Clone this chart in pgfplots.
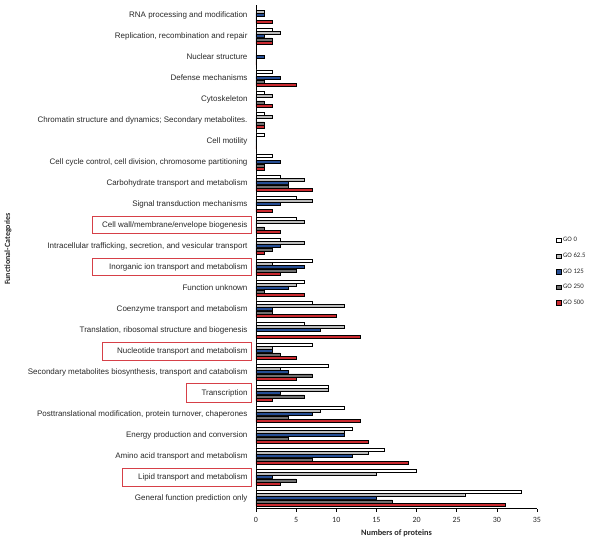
\documentclass[border=0pt]{standalone}
\usepackage{fontspec}
\setmainfont{Liberation Sans}
\newfontfamily\calfont{Carlito}
\usepackage{pgfplots}
\usepackage{pgfplotstable}
\pgfplotsset{compat=1.18}
\definecolor{goA}{RGB}{255,255,255}
\definecolor{goB}{RGB}{188,188,188}
\definecolor{goC}{RGB}{38,78,148}
\definecolor{goD}{RGB}{112,112,112}
\definecolor{goE}{RGB}{202,42,48}
\definecolor{boxred}{RGB}{214,64,72}
\definecolor{txt}{RGB}{40,40,40}
\pgfplotstableread{
cat g0 g62 g125 g250 g500
0  33 26 15 17 31
1  20 15 2  5  3
2  16 14 12 7  19
3  12 11 11 4  14
4  11 8  7  4  13
5  9  9  3  6  2
6  9  3  4  7  5
7  7  2  2  3  5
8  6  11 8  0  13
9  7  11 2  2  10
10 6  5  4  1  6
11 7  2  6  5  3
12 3  6  3  2  1
13 5  6  0  1  3
14 5  7  3  0  2
15 3  6  4  4  7
16 2  0  3  1  1
17 1  0  0  0  0
18 1  2  0  1  1
19 1  2  0  1  2
20 2  0  3  1  5
21 0  0  1  0  0
22 2  3  1  2  2
23 0  1  1  0  2
}\data
\begin{document}
\begin{tikzpicture}
\begin{axis}[
  name=ax, at={(0,0)}, anchor=south west,
  scale only axis, width=281pt, height=504pt,
  xmin=0, xmax=35, ymin=-0.5, ymax=23.5,
  xbar, bar width=3.1pt,
  axis x line*=bottom, axis y line*=left,
  axis line style={-, line width=0.8pt, black},
  xtick={0,5,...,35},
  ytick={0,...,23},
  yticklabels={
    General function prediction only,
    Lipid transport and metabolism,
    Amino acid transport and metabolism,
    Energy production and conversion,
    {Posttranslational modification, protein turnover, chaperones},
    Transcription,
    {Secondary metabolites biosynthesis, transport and catabolism},
    Nucleotide transport and metabolism,
    {Translation, ribosomal structure and biogenesis},
    Coenzyme transport and metabolism,
    Function unknown,
    Inorganic ion transport and metabolism,
    {Intracellular trafficking, secretion, and vesicular transport},
    Cell wall/membrane/envelope biogenesis,
    Signal transduction mechanisms,
    Carbohydrate transport and metabolism,
    {Cell cycle control, cell division, chromosome partitioning},
    Cell motility,
    {Chromatin structure and dynamics; Secondary metabolites.},
    Cytoskeleton,
    Defense mechanisms,
    Nuclear structure,
    {Replication, recombination and repair},
    RNA processing and modification},
  y tick style={draw=none},
  x tick style={black, line width=0.6pt},
  tick align=outside, major tick length=3pt,
  yticklabel style={font=\fontsize{8}{9}\selectfont, text=txt, xshift=-2pt},
  xticklabel style={font=\calfont\fontsize{8}{9}\selectfont, text=txt, yshift=-2pt},
  /pgf/number format/assume math mode=true,
  xlabel={Numbers of proteins},
  xlabel style={font=\calfont\bfseries\fontsize{8.3}{9}\selectfont, text=txt, at={(rel axis cs:0.5,0)}, anchor=center, yshift=-24.5pt},
  ylabel={Functional-Categories},
  ylabel style={font=\calfont\bfseries\fontsize{8}{9}\selectfont, text=txt, at={(rel axis cs:-0.883,0.515)}, anchor=center},
  clip=false,
  legend style={draw=none, fill=none, at={(rel axis cs:1.068,0.47)}, anchor=west,
    font=\calfont\fontsize{6.8}{7}\selectfont, text=txt, row sep=5.6pt, inner sep=0pt},
  legend cell align=left,
  lg/.style={legend image code/.code={\draw[##1, line width=0.5pt] (0pt,-2.2pt) rectangle (4.4pt,2.2pt);}},
]
\addplot[draw=black, line width=0.4pt, fill=goA, bar shift=6.6pt, lg] table[x=g0, y=cat]{\data};
\addplot[draw=black, line width=0.4pt, fill=goB, bar shift=3.3pt, lg] table[x=g62, y=cat]{\data};
\addplot[draw=black, line width=0.4pt, fill=goC, bar shift=0pt, lg] table[x=g125, y=cat]{\data};
\addplot[draw=black, line width=0.4pt, fill=goD, bar shift=-3.3pt, lg] table[x=g250, y=cat]{\data};
\addplot[draw=black, line width=0.4pt, fill=goE, bar shift=-6.6pt, lg] table[x=g500, y=cat]{\data};
\legend{GO 0, GO 62.5, GO 125, GO 250, GO 500}
\draw[boxred, line width=0.8pt] (axis cs:-20.34,12.58) rectangle (axis cs:-0.535,13.42);
\draw[boxred, line width=0.8pt] (axis cs:-20.34,10.58) rectangle (axis cs:-0.535,11.42);
\draw[boxred, line width=0.8pt] (axis cs:-19.18,6.57) rectangle (axis cs:-0.535,7.43);
\draw[boxred, line width=0.8pt] (axis cs:-8.63,4.56) rectangle (axis cs:-0.535,5.44);
\draw[boxred, line width=0.8pt] (axis cs:-16.6,0.57) rectangle (axis cs:-0.535,1.43);
\end{axis}
\pgfresetboundingbox
\path[use as bounding box] ([xshift=-256pt,yshift=-33.5pt]ax.south west) rectangle ([xshift=344pt,yshift=508.5pt]ax.south west);
\end{tikzpicture}
\end{document}
